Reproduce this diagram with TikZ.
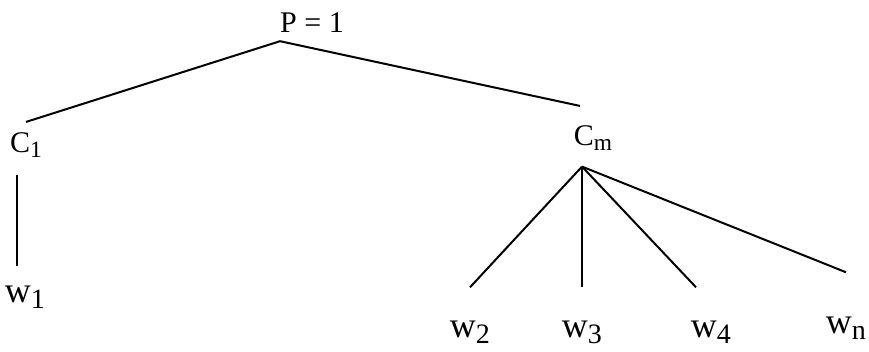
\documentclass[tikz,border=0pt]{standalone}
\usepackage{fontspec}
\setmainfont{Liberation Serif}
\newcommand{\lowidx}[1]{\raisebox{-0.18em}{\scalebox{0.78}{#1}}}
\tikzset{
  term/.style={inner sep=0pt, anchor=base, font=\fontsize{30}{31}\selectfont},
  leaf/.style={term, font=\fontsize{36}{36}\selectfont},
  branch/.style={line width=2pt}
}
\begin{document}
\begin{tikzpicture}[x=1pt,y=-1pt]
\useasboundingbox (0,0) rectangle (869,351);

% root
\node[term] (p) at (312,32) {P = 1};

% classes
\node[term] (c1) at (26,152) {C\lowidx{1}};
\node[term] (cm) at (593,145) {C\lowidx{m}};

% words
\node[leaf] (w1) at (25,302) {w\lowidx{1}};
\node[leaf] (w2) at (470,337) {w\lowidx{2}};
\node[leaf] (w3) at (582,337) {w\lowidx{3}};
\node[leaf] (w4) at (711,337) {w\lowidx{4}};
\node[leaf] (wn) at (846,333) {w\lowidx{n}};

% branch points
\coordinate (ptop) at ([yshift=-9pt]p.south west);
\coordinate (cmfoot) at ([xshift=-11pt,yshift=-16pt]cm.south);

% root to classes
\draw[branch] ([yshift=10pt]c1.north) -- (ptop) -- ([xshift=-13pt,yshift=19pt]cm.north);

% classes to words
\draw[branch] ([xshift=-9pt,yshift=-17pt]c1.south) -- ([xshift=-8pt,yshift=19pt]w1.north);
\draw[branch] (cmfoot) -- ([yshift=33pt]w2.north);
\draw[branch] (cmfoot) -- ([yshift=33pt]w3.north);
\draw[branch] (cmfoot) -- ([xshift=-15pt,yshift=33pt]w4.north);
\draw[branch] (cmfoot) -- ([yshift=44pt]wn.north);
\end{tikzpicture}
\end{document}
